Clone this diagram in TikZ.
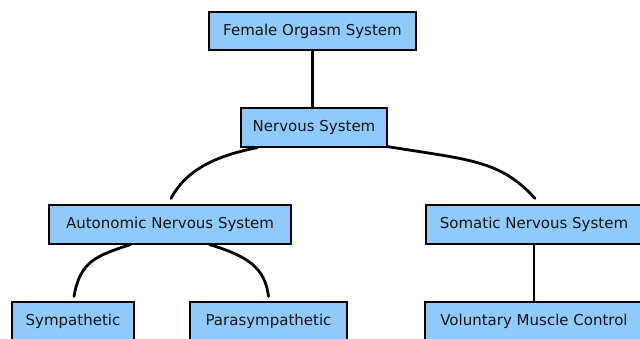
\documentclass[tikz,border=0pt]{standalone}
\usepackage{fontspec}
\setmainfont{DejaVu Sans}
\usetikzlibrary{calc}
\definecolor{boxblue}{RGB}{144,202,249}
\definecolor{txt}{RGB}{20,20,20}
\begin{document}
\begin{tikzpicture}[x=1pt,y=-1pt,
  box/.style={draw=black,line width=1.2pt,fill=boxblue,text=txt,inner sep=0pt,
    font=\fontsize{15}{17}\selectfont,anchor=center},
  link/.style={draw=black,line width=2.8pt,line cap=round}]
\useasboundingbox (0,0) rectangle (640,339);
\begin{scope}
\clip (0,0) rectangle (640,339);
\node[box,minimum width=207pt,minimum height=38pt] (fos) at (312.5,31) {Female Orgasm System};
\node[box,minimum width=146pt,minimum height=39pt] (ns) at (314,127.5) {Nervous System};
\node[box,minimum width=242pt,minimum height=39pt] (ans) at (170,224.5) {Autonomic Nervous System};
\node[box,minimum width=216pt,minimum height=39pt] (sns) at (534,224.5) {Somatic Nervous System};
\node[box,minimum width=122pt,minimum height=39pt] (sym) at (73,321.5) {Sympathetic};
\node[box,minimum width=157pt,minimum height=39pt] (para) at (268.5,321.5) {Parasympathetic};
\node[box,minimum width=218pt,minimum height=39pt] (vmc) at (534,321.5) {Voluntary Muscle Control};

\draw[link] (fos.south) -- (fos.south |- ns.north);
\draw[link] ($(ns.south west)+(17,0)$) .. controls (215,156) and (186,170) .. ($(ans.north)+(1,-6)$);
\draw[link] ($(ns.south east)+(0,-1)$) .. controls (470,160) and (500,160) .. ($(sns.north)+(1,-6)$);
\draw[link] ($(ans.south west)+(82,0)$) .. controls (95,256) and (80,262) .. ($(sym.north)+(1,-5)$);
\draw[link] ($(ans.south west)+(161,0)$) .. controls (248,256) and (265,268) .. ($(para.north)+(0,-5)$);
\draw[link] (sns.south) -- (sns.south |- vmc.north);
\end{scope}
\end{tikzpicture}
\end{document}
